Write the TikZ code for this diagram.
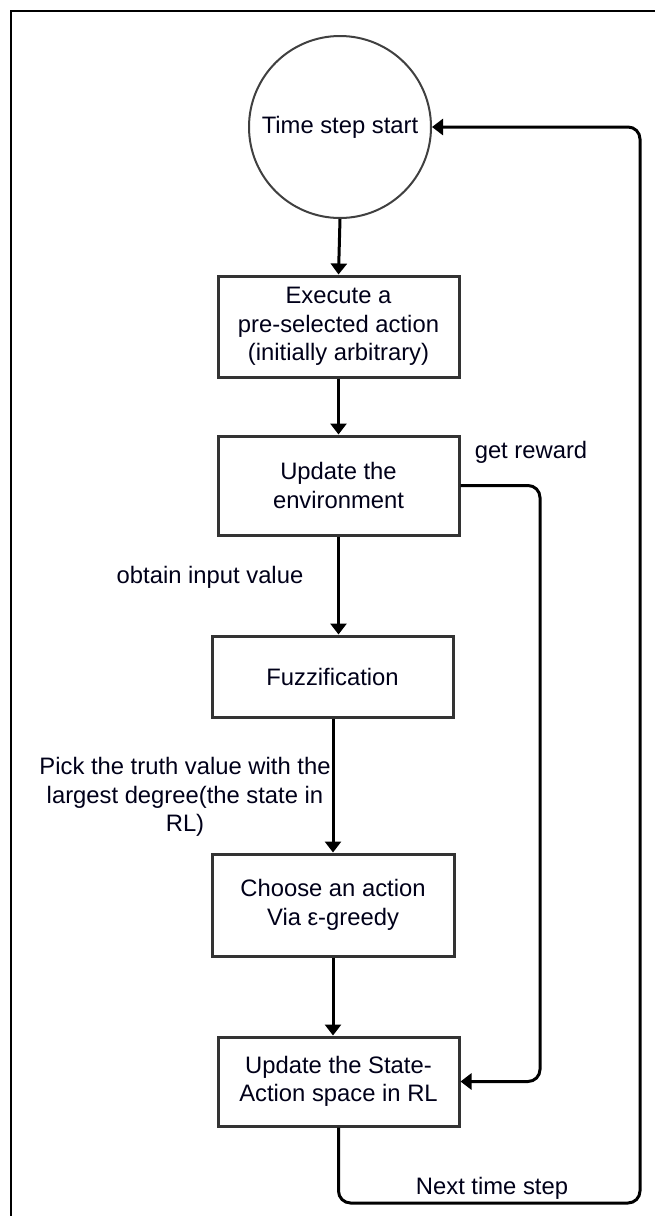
\documentclass[tikz,border=0pt]{standalone}
\usepackage{fontspec}
\setmainfont{Liberation Sans}
\usetikzlibrary{arrows.meta}
\begin{document}
\begin{tikzpicture}[x=1pt,y=-1pt,
  txt/.style={font=\fontsize{23.8}{28.5}\selectfont, text=black!90!blue, inner sep=0pt},
  stepbox/.style={txt, draw=black!80, line width=3pt, fill=white, rectangle, align=center},
  startnode/.style={txt, draw=black!75, line width=2pt, circle, minimum size=182pt},
  flow/.style={line width=3pt, draw=black, -{Triangle[width=16pt,length=11pt]}},
  loop/.style={flow, rounded corners=12pt}]
  \useasboundingbox (0,0) rectangle (654,1216);
  % outer frame (left and top edges)
  \draw[line width=2.5pt] (11,1220) -- (11,11) -- (660,11);

  % process nodes
  \node[startnode] (start) at (340,127) {Time step start};
  \node[stepbox, minimum width=241pt, minimum height=101pt] (exec) at (338.5,326.5)
    {Execute a\\pre-selected action\\(initially arbitrary)};
  \node[stepbox, minimum width=241pt, minimum height=99pt] (env) at (338.5,485.5)
    {Update the\\environment};
  \node[stepbox, minimum width=241pt, minimum height=81pt] (fuzz) at (332.5,676.5)
    {Fuzzification};
  \node[stepbox, minimum width=242pt, minimum height=102pt] (choose) at (333,905)
    {Choose an action\\Via ε-greedy};
  \node[stepbox, minimum width=241pt, minimum height=89pt] (state) at (338.5,1081.5)
    {Update the State-\\Action space in RL};

  % connector labels
  \node[txt] (lreward) at (531,452) {get reward};
  \node[txt] (linput) at (210,577) {obtain input value};
  \node[txt, align=center] (lpick) at (185,797)
    {Pick the truth value with the\\largest degree(the state in\\RL)};
  \node[txt] (lnext) at (492,1188) {Next time step};

  % loop corner points
  \coordinate (rewardx) at (540,0);
  \coordinate (loopbottom) at (0,1203);
  \coordinate (loopright) at (640,0);

  % main chain
  \draw[flow] (start.south) -- (exec.north);
  \draw[flow] (exec.south) -- (env.north);
  \draw[flow] (env.south) -- (env.south |- fuzz.north);
  \draw[flow] (fuzz.south -| choose.north) -- (choose.north);
  \draw[flow] (choose.south) -- (choose.south |- state.north);

  % reward feedback
  \draw[loop] (env.east) -- (env.east -| rewardx) -- (state.east -| rewardx) -- (state.east);

  % next time step
  \draw[loop] (state.south) -- (state.south |- loopbottom) -- (loopright |- loopbottom)
    -- (loopright |- start.east) -- (start.east);
\end{tikzpicture}
\end{document}
